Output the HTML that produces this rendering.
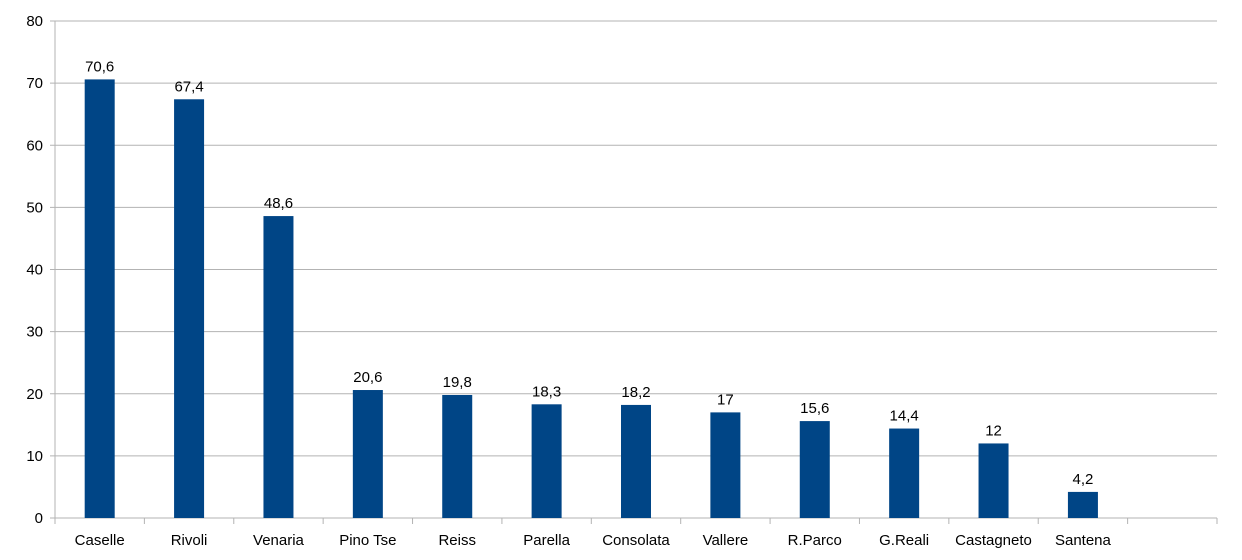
<!DOCTYPE html>
<html><head><meta charset="utf-8"><style>
body{margin:0;background:#fff;}
svg{display:block;font-family:"Liberation Sans",sans-serif;}
</style></head><body>
<svg id="chart" width="1242" height="560" viewBox="0 0 1242 560"></svg>
<script>
const categories=["Caselle","Rivoli","Venaria","Pino Tse","Reiss","Parella","Consolata","Vallere","R.Parco","G.Reali","Castagneto","Santena"];
const values=[70.6,67.4,48.6,20.6,19.8,18.3,18.2,17,15.6,14.4,12,4.2];
const valueLabels=["70,6","67,4","48,6","20,6","19,8","18,3","18,2","17","15,6","14,4","12","4,2"];
const yTicks=[0,10,20,30,40,50,60,70,80];
const NS="http://www.w3.org/2000/svg";
const svg=document.getElementById('chart');
const x0=55,x1=1217,y0=518,y1=21,slots=13,yMax=80;
const slotW=(x1-x0)/slots;
function y(v){return y0-(v/yMax)*(y0-y1);}
function xs(i){return x0+slotW*i;}
function mk(t,a,txt){const e=document.createElementNS(NS,t);for(const k in a)e.setAttribute(k,a[k]);if(txt!==undefined)e.textContent=txt;svg.appendChild(e);return e;}
yTicks.forEach(t=>{
  const g=mk('line',{x1:x0-5,x2:x1,y1:y(t),y2:y(t),stroke:'#b3b3b3','stroke-width':1});
  
  
  const l=mk('text',{x:x0-12,y:y(t)+5,'text-anchor':'end','font-size':15,fill:'#000'},t);
  
  
});
const ax=mk('line',{x1:x0,x2:x0,y1:y1,y2:y0,stroke:'#b3b3b3'});


for(let i=0;i<=slots;i++){
  const tk=mk('line',{x1:xs(i),x2:xs(i),y1:y0,y2:y0+6,stroke:'#b3b3b3'});
  
  
}
categories.forEach((c,i)=>{
  const cx=xs(i)+slotW/2,bw=30;
  const b=mk('rect',{x:cx-bw/2,y:y(values[i]),width:bw,height:y0-y(values[i]),fill:'#004586'});
  
  
  const v=mk('text',{x:cx,y:y(values[i])-8,'text-anchor':'middle','font-size':15,fill:'#000'},valueLabels[i]);
  
  
  const l=mk('text',{x:cx,y:545,'text-anchor':'middle','font-size':15,fill:'#000'},c);
  
  
});
</script>
</body></html>
